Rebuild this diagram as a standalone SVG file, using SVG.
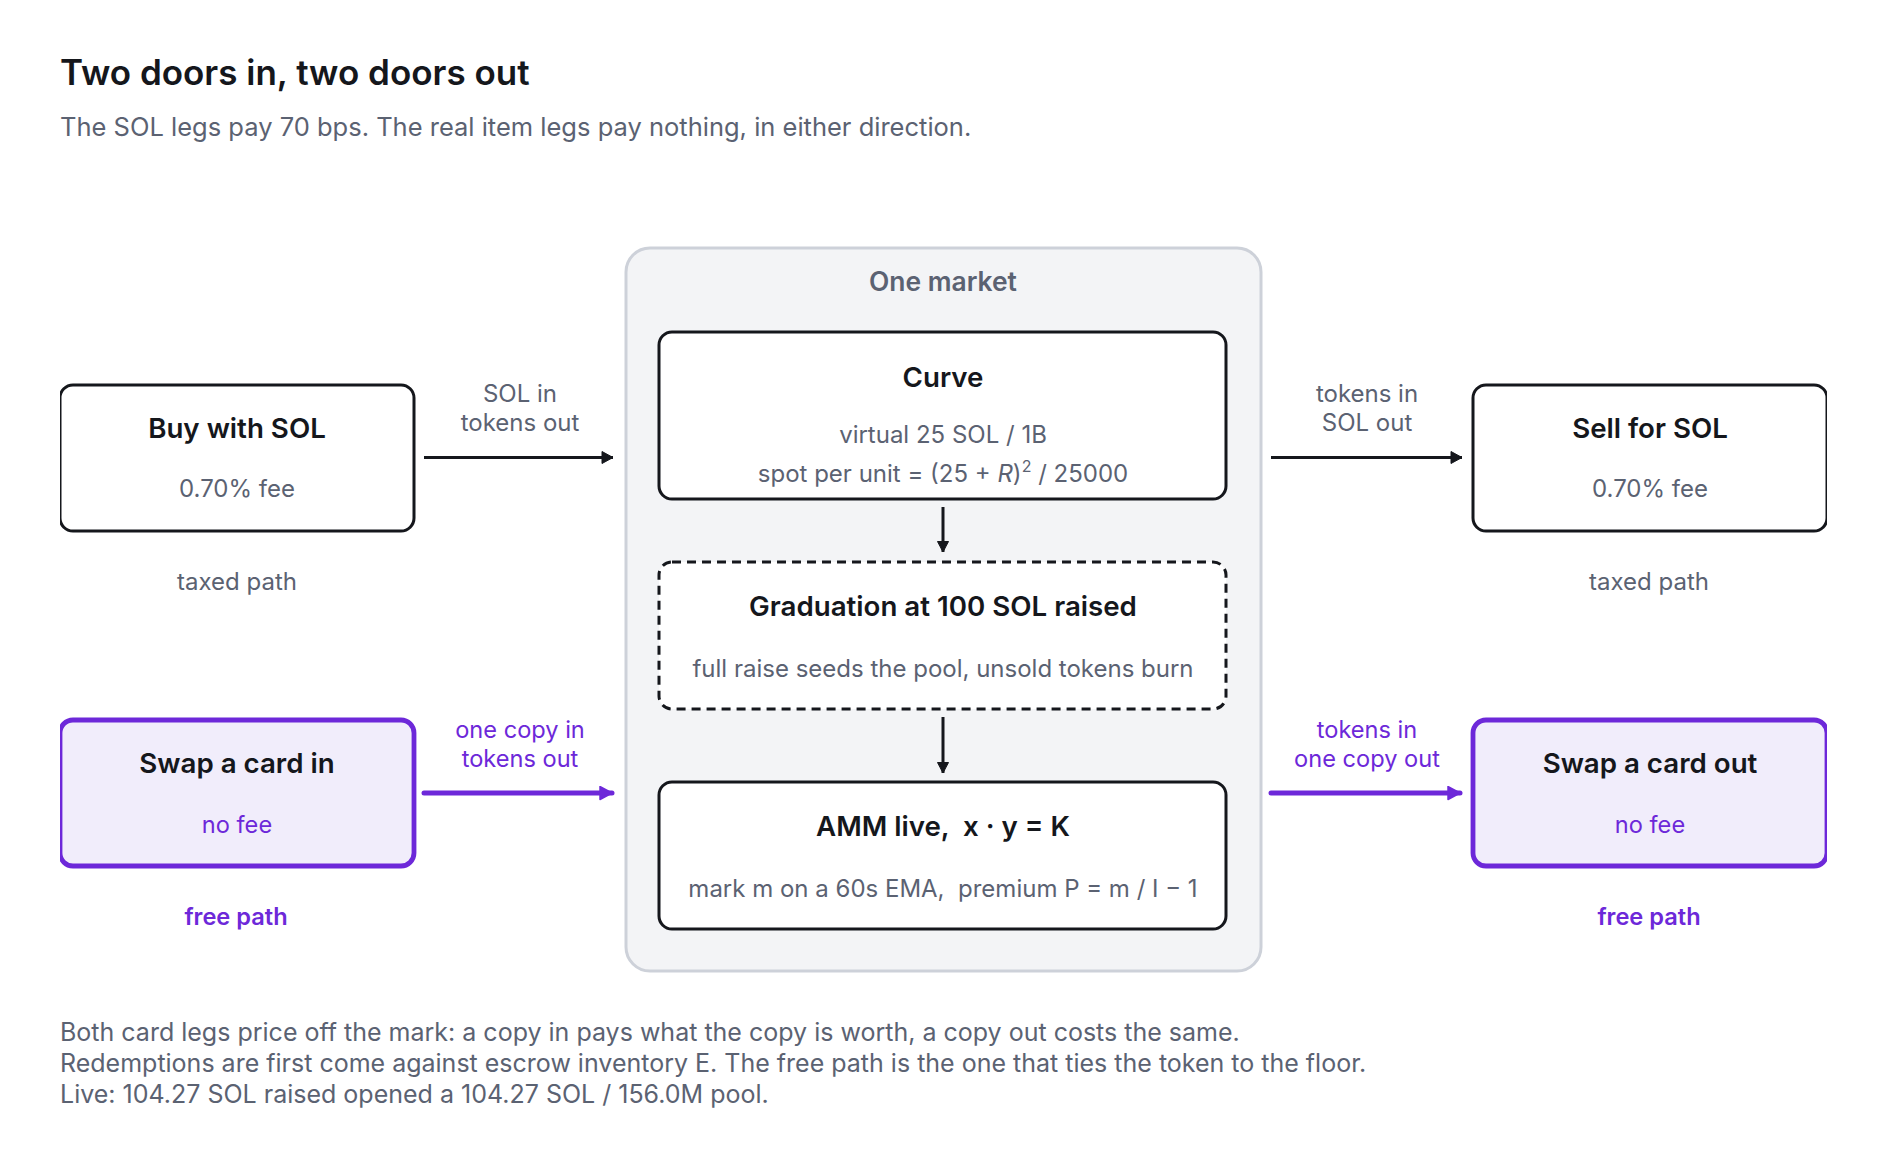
<svg xmlns="http://www.w3.org/2000/svg" width="1887" height="1168" viewBox="0 0 1887 1168">
<style>
text{font-family:Inter,"Noto Sans","Liberation Sans",sans-serif}
.title{font-size:35px;font-weight:600;fill:#15171c}
.sub{font-size:25.5px;fill:#5b6272}
.note{font-size:25px;fill:#5b6272}
.nt{font-size:27.7px;font-weight:600;fill:#15171c;text-anchor:middle}
.nd{font-size:24px;fill:#5b6272;text-anchor:middle}
.lbl{font-size:24px;fill:#5b6272;text-anchor:middle}
.pl{font-size:23.6px;fill:#6d28d9;text-anchor:middle}
.plb{font-size:23.6px;font-weight:600;fill:#6d28d9;text-anchor:middle}
.box{fill:#fff;stroke:#15171c;stroke-width:3}
.pbox{fill:#f1edfb;stroke:#6d28d9;stroke-width:4.8}
.blk{stroke:#15171c;stroke-width:3;fill:none}
.pur{stroke:#6d28d9;stroke-width:5;fill:none;stroke-linecap:round}
</style>
<defs>
<marker id="ah" markerUnits="userSpaceOnUse" markerWidth="16" markerHeight="16" refX="12" refY="7" orient="auto"><path d="M1,1 L12,7 L1,13 Z" fill="#15171c" stroke="#15171c" stroke-width="1" stroke-linejoin="round"/></marker>
<marker id="ahs" markerUnits="userSpaceOnUse" markerWidth="14" markerHeight="14" refX="11" refY="6" orient="auto"><path d="M0.5,0.5 L11,6 L0.5,11.5 Z" fill="#15171c" stroke="#15171c" stroke-width="1" stroke-linejoin="round"/></marker>
<marker id="ap" markerUnits="userSpaceOnUse" markerWidth="16" markerHeight="16" refX="13" refY="7.5" orient="auto"><path d="M1,1 L13,7.5 L1,14 Z" fill="#6d28d9" stroke="#6d28d9" stroke-width="1.5" stroke-linejoin="round"/></marker>
<clipPath id="cl"><rect x="60" y="0" width="1767" height="1168"/></clipPath>
</defs>
<rect width="1887" height="1168" fill="#fff"/>
<text class="title" x="60" y="85">Two doors in, two doors out</text>
<text class="sub" x="60" y="136">The SOL legs pay 70 bps. The real item legs pay nothing, in either direction.</text>

<g id="market">
<rect x="626" y="248" width="635" height="723" rx="24" fill="#f3f4f6" stroke="#cdd1d9" stroke-width="3"/>
<text x="943" y="291" text-anchor="middle" style="font-size:26.4px;font-weight:600;fill:#5b6272">One market</text>
</g>

<g clip-path="url(#cl)">
<g id="buy">
<rect class="box" x="60" y="385" width="354" height="146" rx="13"/>
<text class="nt" x="237" y="438">Buy with SOL</text>
<text class="nd" x="237" y="497">0.70% fee</text>
</g>
<g id="sell">
<rect class="box" x="1473" y="385" width="354" height="146" rx="13"/>
<text class="nt" x="1650" y="438">Sell for SOL</text>
<text class="nd" x="1650" y="497">0.70% fee</text>
</g>
<g id="swapin">
<rect class="pbox" x="60" y="720" width="354" height="146" rx="13"/>
<text class="nt" x="237" y="773">Swap a card in</text>
<text class="pl" x="237" y="833">no fee</text>
</g>
<g id="swapout">
<rect class="pbox" x="1473" y="720" width="354" height="146" rx="13"/>
<text class="nt" x="1650" y="773">Swap a card out</text>
<text class="pl" x="1650" y="833">no fee</text>
</g>
</g>

<g id="curve">
<rect class="box" x="659" y="332" width="567" height="167" rx="13"/>
<text class="nt" x="943" y="387">Curve</text>
<text class="nd" x="943" y="443">virtual 25 SOL / 1B</text>
<text class="nd" x="943" y="482">spot per unit = (25 + <tspan font-style="italic">R</tspan>)<tspan dy="-10" font-size="16">2</tspan><tspan dy="10"> / 25000</tspan></text>
</g>
<g id="graduation">
<rect class="box" x="659" y="562" width="567" height="147" rx="13" stroke-dasharray="9 6"/>
<text class="nt" x="943" y="616">Graduation at 100 SOL raised</text>
<text class="nd" x="943" y="677">full raise seeds the pool, unsold tokens burn</text>
</g>
<g id="amm">
<rect class="box" x="659" y="782" width="567" height="147" rx="13"/>
<text class="nt" x="943" y="836" xml:space="preserve">AMM live,  x · y = K</text>
<text class="nd" x="943" y="897" xml:space="preserve">mark m on a 60s EMA,  premium P = m / I − 1</text>
</g>

<g id="pathlabels">
<text class="lbl" x="237" y="590">taxed path</text>
<text class="lbl" x="1649" y="590">taxed path</text>
<text class="plb" x="236" y="925">free path</text>
<text class="plb" x="1649" y="925">free path</text>
</g>

<g id="connectors">
<line class="blk" x1="424" y1="457.5" x2="613" y2="457.5" marker-end="url(#ah)"/>
<text class="lbl" x="520" y="402">SOL in</text>
<text class="lbl" x="520" y="431">tokens out</text>
<line class="blk" x1="1271" y1="457.5" x2="1462" y2="457.5" marker-end="url(#ah)"/>
<text class="lbl" x="1367" y="402">tokens in</text>
<text class="lbl" x="1367" y="431">SOL out</text>
<line class="pur" x1="424" y1="793" x2="612" y2="793" marker-end="url(#ap)"/>
<text class="pl" x="520" y="738">one copy in</text>
<text class="pl" x="520" y="767">tokens out</text>
<line class="pur" x1="1271" y1="793" x2="1460" y2="793" marker-end="url(#ap)"/>
<text class="pl" x="1367" y="738">tokens in</text>
<text class="pl" x="1367" y="767">one copy out</text>
<line class="blk" x1="943" y1="507" x2="943" y2="552" marker-end="url(#ahs)"/>
<line class="blk" x1="943" y1="717" x2="943" y2="773" marker-end="url(#ahs)"/>
</g>

<g id="notes">
<text class="note" x="60" y="1041">Both card legs price off the mark: a copy in pays what the copy is worth, a copy out costs the same.</text>
<text class="note" x="60" y="1072">Redemptions are first come against escrow inventory E. The free path is the one that ties the token to the floor.</text>
<text class="note" x="60" y="1103">Live: 104.27 SOL raised opened a 104.27 SOL / 156.0M pool.</text>
</g>
</svg>
